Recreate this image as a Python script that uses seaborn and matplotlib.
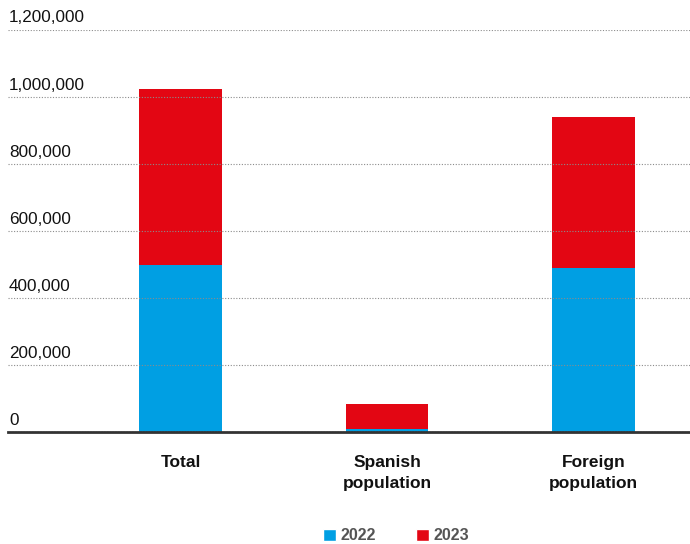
import matplotlib
matplotlib.use("Agg")
import matplotlib.pyplot as plt
from matplotlib.patches import Patch
import pandas as pd
import seaborn as sns

# Migration balance by population group, stacked by year
categories = ["Total", "Spanish\npopulation", "Foreign\npopulation"]
values_2022 = [497000, 9000, 488000]
values_2023 = [527000, 75000, 452000]
y_ticks = [0, 200000, 400000, 600000, 800000, 1000000, 1200000]
y_tick_labels = ["0", "200,000", "400,000", "600,000", "800,000", "1,000,000", "1,200,000"]
series_labels = ["2022", "2023"]

BLUE = "#009FE3"
RED = "#E30613"

df = pd.DataFrame({"category": categories, "y2022": values_2022, "y2023": values_2023})
df["top"] = df["y2022"] + df["y2023"]

sns.set_theme(style="white")
plt.rcParams["font.family"] = ["Liberation Sans", "DejaVu Sans"]

W, H = 690, 544
fig = plt.figure(figsize=(W / 100, H / 100), dpi=100)
ax = fig.add_axes([8 / W, (H - 432.3) / H, 1 - 8 / W, (432.3 - 29.5) / H])

# stacked bars: full height in red, 2022 share in blue on top of it
sns.barplot(data=df, x="category", y="top", color=RED, saturation=1, width=0.4,
            linewidth=0, errorbar=None, ax=ax, zorder=1)
sns.barplot(data=df, x="category", y="y2022", color=BLUE, saturation=1, width=0.4,
            linewidth=0, errorbar=None, ax=ax, zorder=1)

ax.set_xlim(-0.835, 2.467)
ax.set_ylim(0, 1200000)
ax.set_xlabel("")
ax.set_ylabel("")

ax.set_yticks(y_ticks)
ax.yaxis.grid(True, color="#8c8c8c", linestyle=(0, (1, 1.5)), linewidth=0.8)
ax.xaxis.grid(False)
ax.set_axisbelow(False)
ax.tick_params(axis="y", length=0, labelleft=False)

for v, lab in zip(y_ticks, y_tick_labels):
    ax.annotate(lab, xy=(0, v), xycoords=("axes fraction", "data"),
                xytext=(1, 4), textcoords="offset pixels",
                ha="left", va="bottom", fontsize=12.3, color="#111111")

ax.tick_params(axis="x", length=0, pad=16.5)
for t in ax.get_xticklabels():
    t.set_fontweight("bold")
    t.set_fontsize(12.5)
    t.set_linespacing(1.45)
    t.set_color("#111111")

for s in ["left", "top", "right"]:
    ax.spines[s].set_visible(False)
ax.spines["bottom"].set_color("#333333")
ax.spines["bottom"].set_linewidth(2)

handles = [Patch(facecolor=BLUE, label=series_labels[0]),
           Patch(facecolor=RED, label=series_labels[1])]
fig.legend(handles=handles, loc="center", bbox_to_anchor=(396 / W, 8 / H), ncol=2,
           frameon=False, handlelength=0.8, handleheight=0.8, handletextpad=0.3,
           columnspacing=2.5, prop={"weight": "bold", "size": 11.5}, labelcolor="#555555")

fig.savefig("out.png", dpi=100)
